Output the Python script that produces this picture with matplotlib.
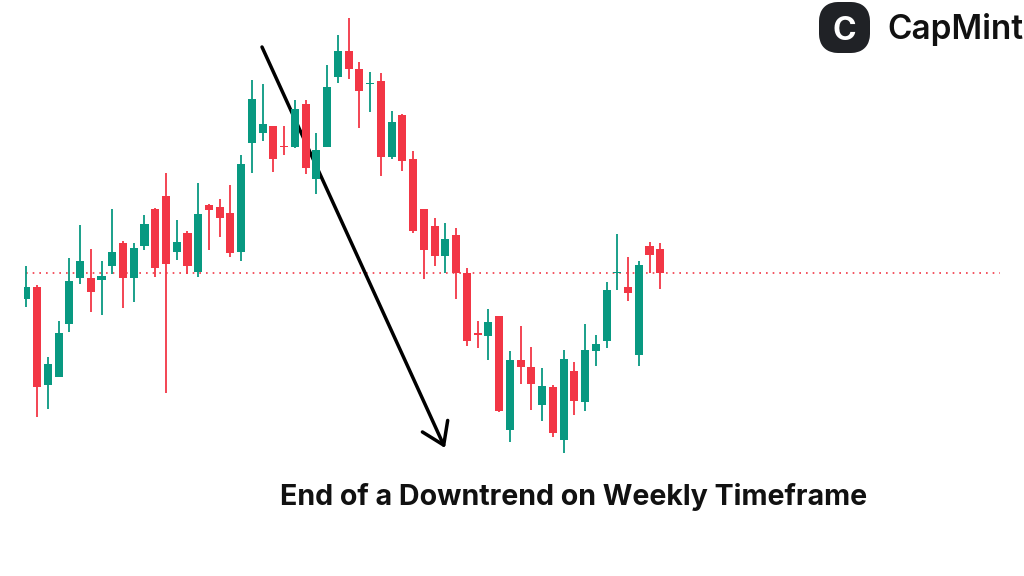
# Weekly candles, end of a downtrend
import matplotlib
matplotlib.use('Agg')
import matplotlib.pyplot as plt
from matplotlib.patches import FancyBboxPatch

GREEN = '#089981'
RED = '#F23645'

# prices are read straight off the picture, so the y axis runs top-down
opens = [299, 287, 385, 377, 324, 278, 278, 280, 266, 243, 278, 246, 209, 196, 252,
         233, 272, 205, 207, 213, 252, 143, 133, 126, 146, 147, 104, 179, 147, 77,
         51, 69, 84, 81, 157, 115, 159, 209, 226, 256, 235, 273, 333, 336, 316,
         430, 360, 367, 405, 387, 440, 371, 402, 351, 341, 273, 287, 355, 246, 249]
closes = [287, 387, 364, 333, 281, 261, 292, 276, 252, 278, 248, 224, 268, 264, 242,
          266, 214, 210, 218, 253, 164, 99, 124, 159, 147, 109, 168, 150, 87, 51,
          69, 91, 83, 157, 122, 161, 231, 250, 256, 239, 273, 341, 335, 322, 411,
          360, 367, 384, 386, 433, 359, 401, 350, 344, 290, 272, 293, 265, 255, 273]
highs = [266, 285, 357, 321, 258, 225, 249, 261, 209, 241, 243, 215, 208, 173, 220,
         231, 183, 204, 199, 185, 155, 80, 84, 126, 126, 100, 100, 133, 65, 35,
         18, 62, 72, 73, 111, 114, 151, 209, 218, 223, 228, 268, 321, 309, 316,
         351, 326, 347, 368, 385, 350, 362, 324, 335, 282, 234, 257, 261, 242, 243]
lows = [307, 417, 409, 377, 332, 284, 312, 315, 274, 308, 302, 250, 277, 393, 260,
        274, 277, 250, 237, 257, 261, 173, 141, 172, 155, 148, 174, 194, 147, 83,
        79, 128, 112, 176, 159, 171, 233, 279, 266, 273, 299, 346, 348, 360, 412,
        442, 384, 410, 421, 437, 453, 415, 411, 366, 348, 290, 301, 366, 273, 289]
ref_level = 273

title = 'End of a Downtrend on Weekly Timeframe'
brand = 'CapMint'

fig = plt.figure(figsize=(10.24, 5.76), dpi=100)
# axes start at the left edge of the chart, first candle is cut off there
ax = fig.add_axes([24 / 1024, 0, 1000 / 1024, 1])
ax.set_xlim(-0.214, 92.85)
ax.set_ylim(576, 0)
ax.axis('off')

xs = list(range(len(opens)))
colors = [GREEN if c < o else RED for o, c in zip(opens, closes)]

ax.hlines(ref_level, 0, 90.6, colors=RED, linestyles=(0, (1, 3)), linewidth=1.2, zorder=1)

# arrow sits under the candles
ax.annotate('', xy=(445 / 1024, 1 - 448 / 576), xytext=(262 / 1024, 1 - 47 / 576),
            xycoords='figure fraction', textcoords='figure fraction', zorder=2,
            arrowprops=dict(arrowstyle='->,head_length=1.5,head_width=1.0', color='black',
                            lw=2.5, shrinkA=0, shrinkB=0))

ax.vlines(xs, highs, lows, colors=colors, linewidth=1.3, zorder=3)
bottoms = [min(o, c) for o, c in zip(opens, closes)]
heights = [max(abs(o - c), 1) for o, c in zip(opens, closes)]
ax.bar(xs, heights, bottom=bottoms, width=0.75, color=colors, linewidth=0, zorder=4)

fig.text(573.5 / 1024, 1 - 497 / 576, title, fontsize=20.6, fontweight='bold', family='Inter',
         ha='center', va='center', color='#111111')

# logo
fig.add_artist(FancyBboxPatch((826 / 1024, 1 - 46 / 576), 37 / 1024, 37 / 576,
                              boxstyle='round,pad=0,rounding_size=0.012', mutation_aspect=1.78,
                              transform=fig.transFigure, facecolor='#202226', edgecolor='#202226',
                              linewidth=14 * 0.72, joinstyle='round'))
fig.text(844.5 / 1024, 1 - 31 / 576, 'C', fontsize=23, fontweight='bold', family='Inter',
         ha='center', va='center', color='white')
fig.text(887 / 1024, 1 - 30 / 576, brand, fontsize=24, fontweight='semibold', family='Inter',
         ha='left', va='center', color='#111111')

fig.savefig('out.png', dpi=100)
